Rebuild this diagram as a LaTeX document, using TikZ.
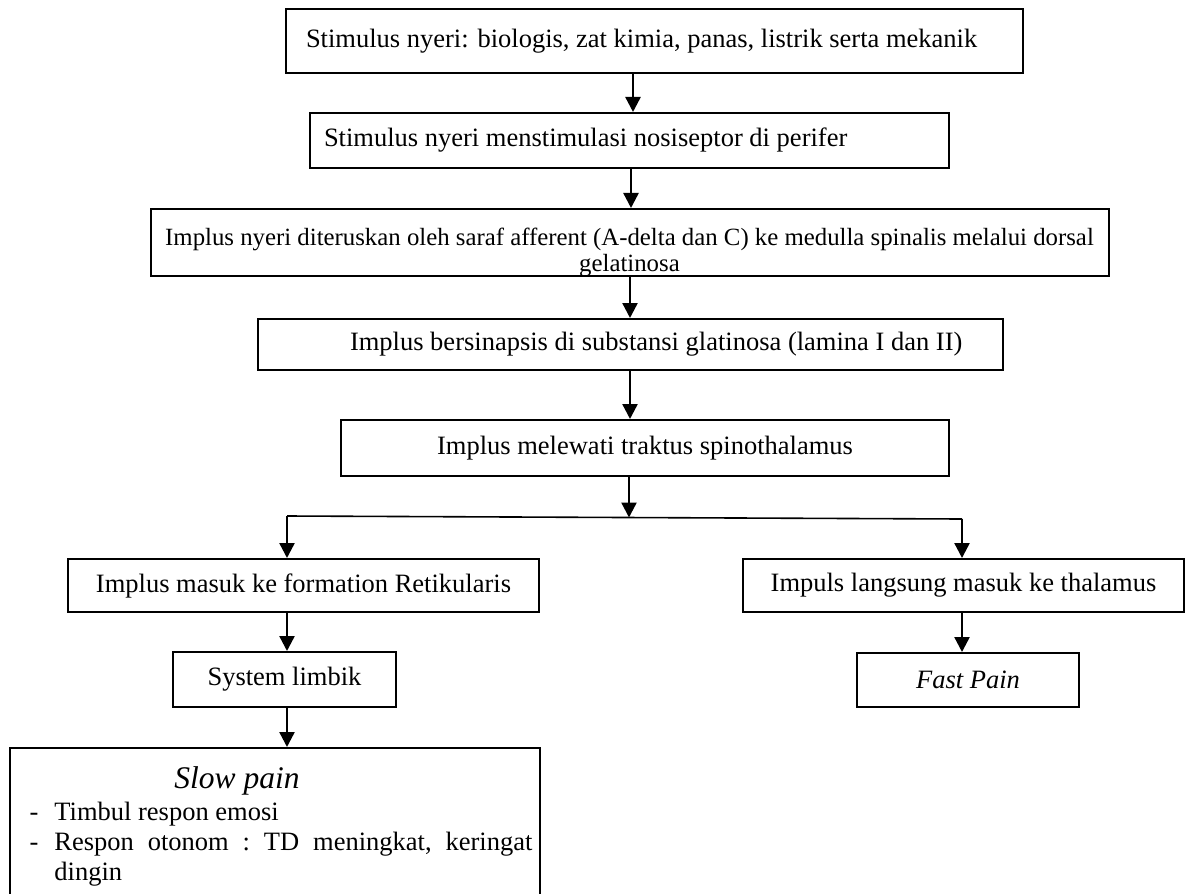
\documentclass[tikz,border=0pt]{standalone}
\usepackage{fontspec}
\setmainfont{Liberation Serif}
\usetikzlibrary{arrows.meta,calc}
\begin{document}
\begin{tikzpicture}[x=0.5pt,y=-0.5pt,
  box/.style={draw,line width=1pt,inner sep=0pt,align=center,font=\fontsize{13.25}{15.5}\selectfont},
  arr/.style={line width=1.2pt,-{Triangle[length=7.5pt,width=7.5pt]}},
  split/.style={line width=0.8pt},
  txt/.style={inner sep=0pt,font=\fontsize{13.25}{15.5}\selectfont},
  smalltxt/.style={inner sep=0pt,font=\fontsize{12.4}{14}\selectfont}
  ]
\useasboundingbox (0,0) rectangle (1186,893);
% boxes
\node[box,minimum width=368.5pt,minimum height=32pt] (b1) at (654.5,41)
  {\makebox[368.5pt][l]{\hspace{10pt}Stimulus nyeri: biologis, zat kimia, panas, listrik serta mekanik}};
\node[box,minimum width=319.5pt,minimum height=27.5pt] (b2) at (629.5,140.5)
  {\makebox[319.5pt][l]{\hspace{7pt}Stimulus nyeri menstimulasi nosiseptor di perifer}};
\node[box,minimum width=479pt,minimum height=33.5pt] (b3) at (629.5,242.5) {};
\node[smalltxt,anchor=base] (b3a) at (629.5,245)
  {Implus nyeri diteruskan oleh saraf afferent (A-delta dan C) ke medulla spinalis melalui dorsal};
\node[smalltxt,anchor=base] (b3b) at (629.5,271) {gelatinosa};
\node[box,minimum width=372.5pt,minimum height=25.5pt] (b4) at (630.5,344.5)
  {\makebox[372.5pt][l]{\hspace{46pt}Implus bersinapsis di substansi glatinosa (lamina I dan II)}};
\node[box,minimum width=304pt,minimum height=28pt] (b5) at (645,448)
  {Implus melewati traktus spinothalamus};
\node[box,minimum width=235.5pt,minimum height=26.5pt] (l1) at (303.5,585.5)
  {Implus masuk ke formation Retikularis};
\node[box,minimum width=220.5pt,minimum height=26.5pt] (r1) at (963.5,585.5)
  {Impuls langsung masuk ke thalamus};
\node[box,minimum width=111.5pt,minimum height=27.5pt] (l2) at (284.5,679.5)
  {System limbik};
\node[box,minimum width=111pt,minimum height=27pt] (fp) at (968,680)
  {\itshape Fast Pain};
\node[box,minimum width=265pt,minimum height=81pt] (sp) at (275,829) {};
\node[txt,font=\fontsize{15.75}{18}\selectfont\itshape,anchor=base] (spt) at (237,788) {Slow pain};
\node[txt,anchor=base west] (i1) at (54,820) {\llap{-\hspace{8pt}}Timbul respon emosi};
\node[txt,anchor=base west] (i2) at (54,850) {\llap{-\hspace{8pt}}\hbox to 239pt{Respon\hfill otonom\hfill :\hfill TD\hfill meningkat,\hfill keringat}};
\node[txt,anchor=base west] (i3) at (54,880) {dingin};
% arrow x positions
\coordinate (x1) at (633,0);
\coordinate (x2) at (631,0);
\coordinate (x3) at (630,0);
\coordinate (x4) at (630,0);
\coordinate (x5) at (629,0);
\coordinate (sL) at (287,516);
\coordinate (sR) at (962,519);
\coordinate (sM) at (629,517.5);
% connectors
\draw[arr] (b1.south -| x1) -- (b2.north -| x1);
\draw[arr] (b2.south -| x2) -- (b3.north -| x2);
\draw[arr] (b3.south -| x3) -- (b4.north -| x3);
\draw[arr] (b4.south -| x4) -- (b5.north -| x4);
\draw[arr] (b5.south -| x5) -- (sM);
\draw[split] (sL) -- (sR);
\draw[arr] (sL) -- (l1.north -| sL);
\draw[arr] (sR) -- (r1.north -| sR);
\draw[arr] (l1.south -| sL) -- (l2.north -| sL);
\draw[arr] (r1.south -| sR) -- (fp.north -| sR);
\draw[arr] (l2.south -| sL) -- (sp.north -| sL);
\end{tikzpicture}
\end{document}
